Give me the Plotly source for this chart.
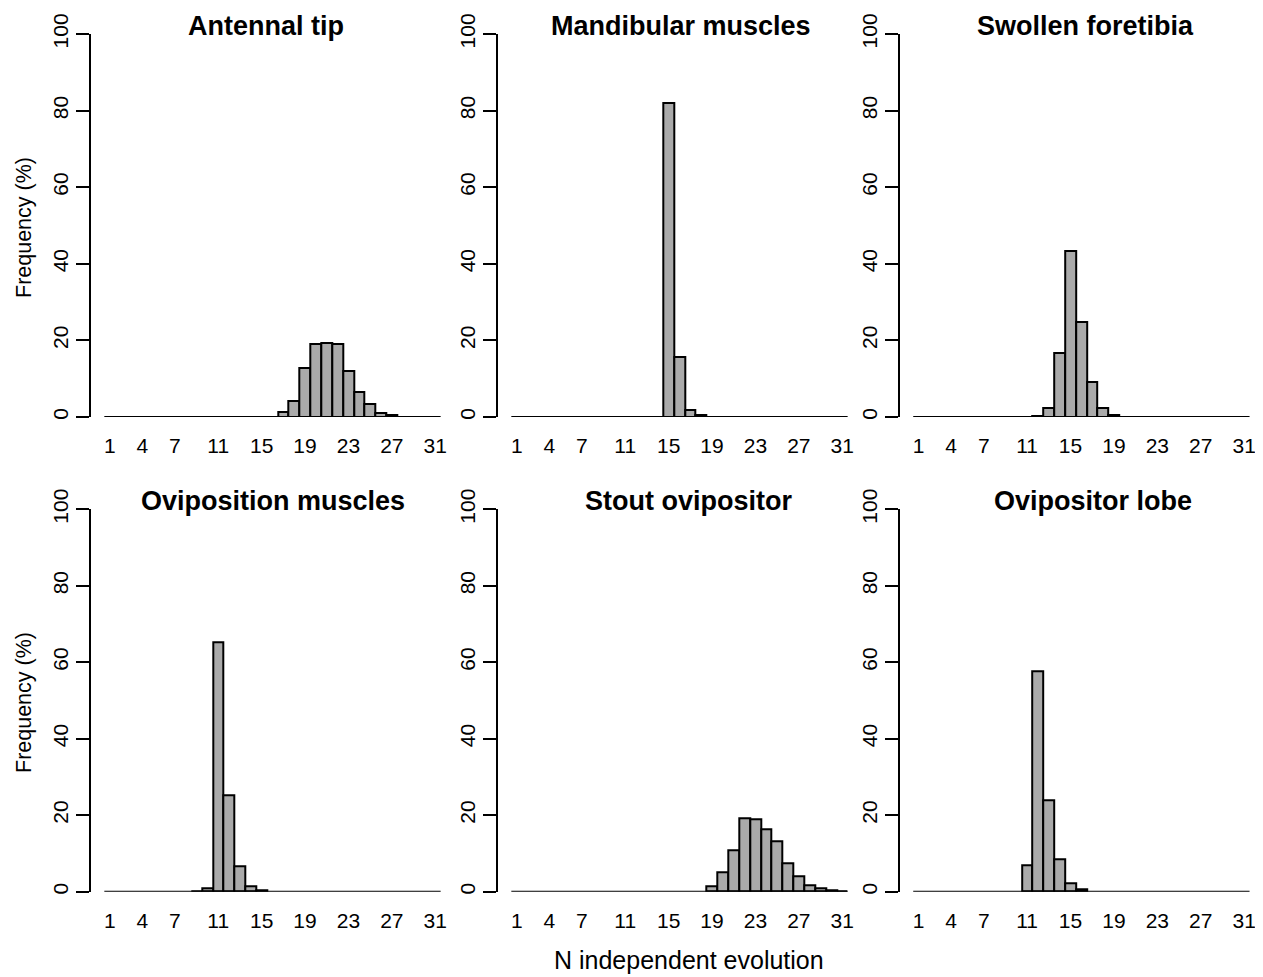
import plotly.graph_objects as go

# page body adds an 8 px margin: lay out in reference pixels, shifted by -8
OFF = 8
W, H = 1263 - OFF, 977 - OFF

# ---------------- data ----------------
x_tick_vals = [1, 4, 7, 11, 15, 19, 23, 27, 31]
y_tick_vals = [0, 20, 40, 60, 80, 100]
n_values = list(range(1, 32))  # possible numbers of independent evolutions

panel_titles = ["Antennal tip", "Mandibular muscles", "Swollen foretibia",
                "Oviposition muscles", "Stout ovipositor", "Ovipositor lobe"]

antennal_tip_bins = [17, 18, 19, 20, 21, 22, 23, 24, 25, 26, 27]
antennal_tip_freq = [1.3, 4.2, 12.7, 19.1, 19.2, 19.1, 12.0, 6.5, 3.3, 1.1, 0.5]

mandibular_bins = [15, 16, 17, 18]
mandibular_freq = [81.9, 15.7, 1.8, 0.4]

foretibia_bins = [12, 13, 14, 15, 16, 17, 18, 19]
foretibia_freq = [0.3, 2.4, 16.7, 43.4, 24.9, 9.1, 2.4, 0.4]

ovi_muscles_bins = [9, 10, 11, 12, 13, 14, 15]
ovi_muscles_freq = [0.2, 0.8, 65.1, 25.1, 6.7, 1.5, 0.4]

stout_bins = [19, 20, 21, 22, 23, 24, 25, 26, 27, 28, 29, 30, 31]
stout_freq = [1.4, 5.1, 10.8, 19.3, 19.0, 16.3, 13.1, 7.3, 4.0, 1.8, 0.9, 0.4, 0.2]

ovi_lobe_bins = [11, 12, 13, 14, 15, 16]
ovi_lobe_freq = [6.8, 57.7, 23.9, 8.4, 2.3, 0.5]

series_bins = [antennal_tip_bins, mandibular_bins, foretibia_bins,
               ovi_muscles_bins, stout_bins, ovi_lobe_bins]
series_freq = [antennal_tip_freq, mandibular_freq, foretibia_freq,
               ovi_muscles_freq, stout_freq, ovi_lobe_freq]

# ---------------- layout geometry (reference pixels) ----------------
FONT = "Liberation Sans, Arial, Helvetica, sans-serif"
col_left_px = [91.3, 498.3, 900.2]
plot_w_px = 350.0
row_y_px = [(34.0, 417.0), (509.3, 891.7)]   # (y of 100, y of 0)
title_x_px = [[266.0, 681.0, 1085.5], [273.0, 688.3, 1093.3]]
title_y_px = [26.0, 501.0]
ylab_y_px = [228.0, 703.0]
x_range = [-0.70, 31.56]


def fx(px):
    return (px - OFF) / W


def fy(px):
    return 1 - (px - OFF) / H


fig = go.Figure()
annotations = []

for i in range(6):
    r, c = divmod(i, 3)
    ax = "" if i == 0 else str(i + 1)
    xref, yref = "x" + ax, "y" + ax

    # baseline of empty histogram cells
    fig.add_trace(go.Scatter(
        x=[n_values[0] - 0.5, n_values[-1] + 0.5], y=[0, 0],
        mode="lines", line=dict(color="black", width=2),
        xaxis=xref, yaxis=yref, hoverinfo="skip", showlegend=False,
        cliponaxis=False))
    fig.add_trace(go.Bar(
        x=series_bins[i], y=series_freq[i], width=1,
        marker=dict(color="#aaaaaa", line=dict(color="black", width=2)),
        xaxis=xref, yaxis=yref, showlegend=False, cliponaxis=False))

    ytop, ybot = row_y_px[r]
    fig.layout["xaxis" + ax] = dict(
        domain=[fx(col_left_px[c]), fx(col_left_px[c] + plot_w_px)],
        range=x_range, anchor=yref, automargin=False,
        tickvals=x_tick_vals, ticktext=[str(v) for v in x_tick_vals],
        showline=False, showgrid=False, zeroline=False,
        ticks="outside", ticklen=10, tickcolor="rgba(0,0,0,0)",
        tickfont=dict(family=FONT, size=21, color="black"))
    fig.layout["yaxis" + ax] = dict(
        domain=[fy(ybot), fy(ytop)], range=[0, 100], anchor=xref,
        automargin=False,
        tickvals=y_tick_vals, showline=True, linecolor="black", linewidth=2,
        showgrid=False, zeroline=False,
        ticks="outside", ticklen=13, tickwidth=2, tickcolor="black",
        tickangle=-90,
        tickfont=dict(family=FONT, size=21, color="black"))

    annotations.append(dict(
        text="<b>%s</b>" % panel_titles[i], xref="paper", yref="paper",
        x=fx(title_x_px[r][c]), y=fy(title_y_px[r]),
        xanchor="center", yanchor="middle", showarrow=False,
        font=dict(family=FONT, size=27, color="black")))

for r in range(2):
    annotations.append(dict(
        text="Frequency (%)", xref="paper", yref="paper",
        x=fx(24), y=fy(ylab_y_px[r]), textangle=-90,
        xanchor="center", yanchor="middle", showarrow=False,
        font=dict(family=FONT, size=21.5, color="black")))

annotations.append(dict(
    text="N independent evolution", xref="paper", yref="paper",
    x=fx(689), y=fy(960), xanchor="center", yanchor="middle",
    showarrow=False, font=dict(family=FONT, size=25, color="black")))

fig.update_layout(
    width=W, height=H, margin=dict(l=0, r=0, t=0, b=0, autoexpand=False),
    paper_bgcolor="white", plot_bgcolor="white",
    bargap=0, annotations=annotations, showlegend=False)

fig.write_html("out.html")
